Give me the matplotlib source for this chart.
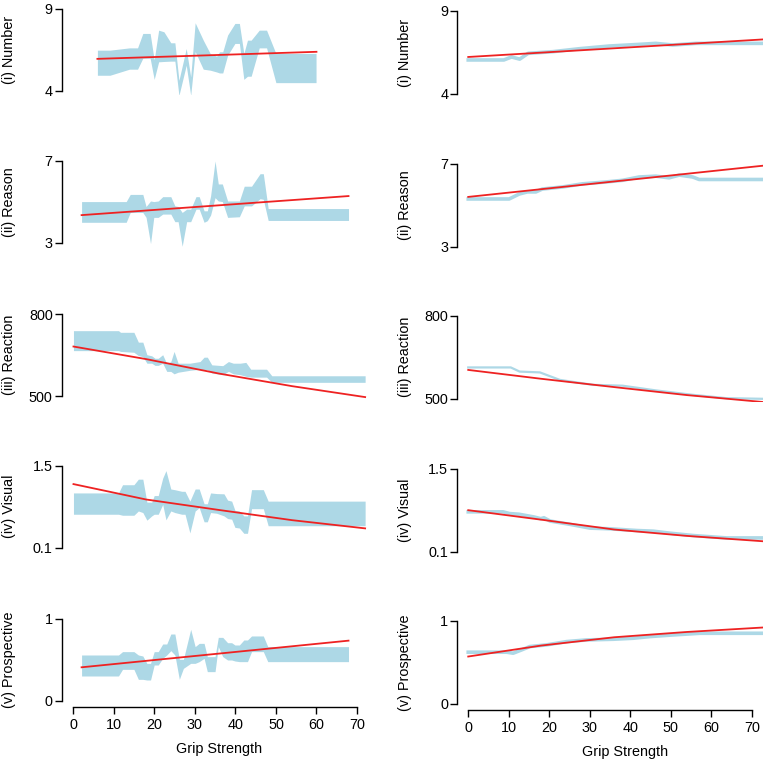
import matplotlib
matplotlib.use("Agg")
import matplotlib.pyplot as plt

plt.rcParams['font.family'] = ['Liberation Sans', 'DejaVu Sans']

BAND = '#ADD8E6'
RED = '#EE2222'

labels = ['(i) Number', '(ii) Reason', '(iii) Reaction', '(iv) Visual', '(v) Prospective']
y_ranges = [(4, 9), (3, 7), (500, 800), (0.1, 1.5), (0, 1)]
x_ticks = [0, 10, 20, 30, 40, 50, 60, 70]

# ---------------- Left column (bands) ----------------
num_x  = [6.0, 9.1, 13.9, 15.9, 17.2, 19.0, 20.0, 21.1, 22.4, 24.1, 25.1, 26.1, 27.9, 29.0, 30.1, 32.1, 33.8, 35.4, 36.1, 36.9, 38.1, 39.9, 41.0, 42.1, 43.0, 43.9, 45.9, 47.7, 50.0, 59.9]
num_hi = [6.49, 6.49, 6.63, 6.63, 7.51, 7.51, 5.9, 7.71, 7.61, 6.94, 6.94, 4.65, 6.59, 4.86, 8.16, 7.10, 6.29, 6.12, 6.39, 6.39, 7.41, 8.12, 8.12, 6.29, 7.10, 7.10, 7.71, 7.71, 6.29, 6.29]
num_lo = [4.96, 4.96, 5.33, 5.33, 6.0, 6.0, 4.71, 5.78, 5.80, 5.82, 5.82, 3.73, 5.57, 3.73, 6.4, 5.33, 5.27, 5.16, 5.10, 5.10, 6.18, 6.90, 6.90, 4.71, 4.90, 4.90, 6.63, 6.63, 4.51, 4.51]
num_fit_x = [6.0, 60.0]
num_fit_y = [5.96, 6.39]

rea_x  = [2.1, 13.1, 14.1, 17.2, 18.0, 19.1, 19.9, 21.0, 22.1, 24.1, 25.1, 25.9, 26.9, 28.0, 29.0, 30.3, 31.1, 32.3, 33.1, 33.9, 35.0, 35.8, 36.8, 38.1, 41.0, 42.2, 44.0, 46.1, 46.9, 48.1, 67.9]
rea_hi = [5.02, 5.02, 5.37, 5.37, 4.78, 5.05, 5.02, 5.05, 5.26, 5.26, 4.81, 4.78, 4.49, 4.65, 4.65, 5.26, 5.26, 4.57, 4.57, 5.29, 7.0, 5.88, 5.88, 5.05, 5.05, 5.77, 5.77, 6.38, 6.38, 4.68, 4.68]
rea_lo = [4.01, 4.01, 4.49, 4.49, 4.25, 2.97, 4.25, 4.25, 4.41, 4.41, 4.04, 4.04, 2.84, 4.04, 4.04, 4.65, 4.65, 4.01, 4.09, 4.36, 5.21, 5.05, 5.02, 4.25, 4.28, 4.81, 4.81, 5.16, 5.13, 4.10, 4.10]
rea_fit_x = [2.1, 67.9]
rea_fit_y = [4.36, 5.29]

rt_x  = [0.1, 11.2, 11.7, 15.0, 16.1, 17.2, 18.2, 19.4, 20.2, 21.0, 22.1, 23.1, 24.1, 24.9, 25.9, 28.8, 31.3, 32.3, 33.1, 34.2, 36.9, 38.3, 39.5, 41.2, 42.6, 43.8, 47.7, 49.0, 72.0]
rt_hi = [739, 739, 733, 733, 697, 697, 651, 647, 638, 638, 651, 618, 626, 663, 620, 620, 626, 642, 642, 614, 611, 626, 620, 620, 623, 598, 598, 574, 574]
rt_lo = [666, 666, 663, 660, 648, 644, 620, 620, 612, 612, 620, 590, 590, 581, 587, 594, 598, 596, 596, 584, 578, 590, 581, 578, 572, 569, 569, 550, 550]
rt_fit_x = [0.1, 18.0, 36.0, 54.0, 72.0]
rt_fit_y = [681, 635, 582, 536, 496]

vis_x  = [0.1, 11.2, 12.2, 15.0, 16.1, 17.2, 18.2, 19.4, 20.0, 21.0, 22.1, 22.9, 24.1, 25.1, 26.8, 27.6, 28.8, 30.1, 31.1, 32.3, 33.1, 33.9, 35.4, 37.2, 38.1, 39.1, 39.9, 41.0, 42.1, 43.0, 44.0, 46.9, 48.1, 72.0]
vis_hi = [1.035, 1.035, 1.175, 1.175, 1.27, 1.27, 0.878, 0.878, 0.99, 0.99, 1.287, 1.416, 1.102, 1.09, 1.063, 1.063, 0.895, 1.102, 1.102, 0.85, 0.85, 1.035, 1.024, 1.02, 0.912, 0.895, 0.738, 0.727, 0.643, 0.643, 1.091, 1.091, 0.895, 0.895]
vis_lo = [0.671, 0.671, 0.654, 0.654, 0.727, 0.70, 0.570, 0.643, 0.671, 0.671, 0.839, 0.576, 0.727, 0.70, 0.671, 0.671, 0.352, 0.727, 0.783, 0.542, 0.542, 0.70, 0.688, 0.643, 0.598, 0.587, 0.447, 0.436, 0.346, 0.346, 0.766, 0.766, 0.475, 0.475]
vis_fit_x = [0.1, 18.0, 36.0, 54.0, 72.0]
vis_fit_y = [1.186, 0.923, 0.744, 0.570, 0.43]

pro_x  = [2.1, 11.2, 12.2, 15.0, 16.1, 17.2, 18.2, 19.1, 20.0, 21.0, 22.1, 23.1, 24.1, 25.1, 26.2, 27.2, 29.0, 30.1, 31.1, 32.3, 33.1, 35.0, 35.8, 36.9, 38.1, 39.1, 39.9, 41.0, 42.1, 43.0, 44.0, 46.9, 48.0, 67.9]
pro_hi = [0.561, 0.561, 0.602, 0.602, 0.561, 0.549, 0.459, 0.459, 0.602, 0.602, 0.695, 0.695, 0.817, 0.817, 0.508, 0.508, 0.874, 0.663, 0.703, 0.703, 0.541, 0.541, 0.776, 0.776, 0.711, 0.711, 0.683, 0.683, 0.744, 0.744, 0.793, 0.793, 0.663, 0.663]
pro_lo = [0.305, 0.305, 0.386, 0.386, 0.264, 0.264, 0.256, 0.256, 0.439, 0.439, 0.520, 0.561, 0.614, 0.561, 0.264, 0.398, 0.459, 0.459, 0.480, 0.520, 0.358, 0.358, 0.663, 0.541, 0.50, 0.50, 0.488, 0.480, 0.480, 0.480, 0.602, 0.602, 0.480, 0.480]
pro_fit_x = [2.1, 67.9]
pro_fit_y = [0.411, 0.736]

left_bands = [(num_x, num_lo, num_hi), (rea_x, rea_lo, rea_hi), (rt_x, rt_lo, rt_hi),
              (vis_x, vis_lo, vis_hi), (pro_x, pro_lo, pro_hi)]
left_fits = [(num_fit_x, num_fit_y), (rea_fit_x, rea_fit_y), (rt_fit_x, rt_fit_y),
             (vis_fit_x, vis_fit_y), (pro_fit_x, pro_fit_y)]

# ---------------- Right column (thin ribbons) ----------------
rnum_x = [0, 8.8, 10.7, 12.7, 14.8, 20.9, 27.5, 34.8, 42.2, 46.3, 50.5, 56.2, 75]
rnum_y = [6.05, 6.05, 6.23, 6.10, 6.45, 6.55, 6.73, 6.89, 6.99, 7.05, 6.95, 7.05, 7.05]
rnum_fit_x = [0, 75]
rnum_fit_y = [6.23, 7.32]

rrea_x = [0, 10.1, 12.6, 14.6, 16.7, 18.3, 23.3, 28.2, 34.0, 38.1, 42.2, 46.3, 49.6, 52.1, 55.4, 57.0, 75]
rrea_y = [5.29, 5.29, 5.53, 5.63, 5.63, 5.77, 5.87, 6.02, 6.11, 6.19, 6.35, 6.39, 6.31, 6.44, 6.35, 6.23, 6.23]
rrea_fit_x = [0, 75]
rrea_fit_y = [5.39, 6.94]

rrt_x = [0, 10.5, 12.7, 17.7, 22.6, 30.8, 38.1, 46.3, 55.4, 63.6, 75]
rrt_y = [613, 613, 598, 595, 568, 550, 547, 530, 514, 502, 499]
rrt_fit_x = [0, 18, 36, 54, 75]
rrt_fit_y = [604, 572, 542, 513, 485]

rvis_x = [0, 8.6, 10.2, 12.5, 16.2, 17.9, 18.7, 20.2, 25.2, 30.1, 35.0, 41.6, 45.7, 49.8, 55.6, 63.8, 75]
rvis_y = [0.769, 0.769, 0.74, 0.729, 0.683, 0.654, 0.669, 0.614, 0.557, 0.494, 0.483, 0.454, 0.443, 0.409, 0.369, 0.329, 0.329]
rvis_fit_x = [0, 18, 36, 54, 75]
rvis_fit_y = [0.797, 0.637, 0.471, 0.363, 0.262]

rpro_x = [0, 9.5, 11.1, 13.2, 15.2, 19.3, 24.3, 29.2, 35.8, 40.7, 44.8, 50.6, 57.2, 75]
rpro_y = [0.624, 0.624, 0.612, 0.652, 0.692, 0.712, 0.752, 0.772, 0.78, 0.792, 0.812, 0.832, 0.852, 0.852]
rpro_fit_x = [0, 18, 36, 54, 75]
rpro_fit_y = [0.572, 0.704, 0.804, 0.868, 0.928]

right_lines = [(rnum_x, rnum_y), (rrea_x, rrea_y), (rrt_x, rrt_y), (rvis_x, rvis_y), (rpro_x, rpro_y)]
right_fits = [(rnum_fit_x, rnum_fit_y), (rrea_fit_x, rrea_fit_y), (rrt_fit_x, rrt_fit_y),
              (rvis_fit_x, rvis_fit_y), (rpro_fit_x, rpro_fit_y)]

# ---------------- Layout ----------------
W, H = 763, 759
fig = plt.figure(figsize=(W / 100, H / 100), dpi=100)

FS = 10.4

def make_axes(x_left_px, width_px, y_hi_px, span_px, xlim):
    top = y_hi_px - 0.04 * span_px
    height = 1.08 * span_px
    bottom = H - (top + height)
    ax = fig.add_axes([x_left_px / W, bottom / H, width_px / W, height / H])
    ax.set_xlim(*xlim)
    return ax

left_yhi = [9, 161, 314, 465.7, 619]
right_yhi = [11, 163.5, 315.7, 468.5, 621]

def style(ax, yr, label, bottom_row, label_x):
    lo, hi = yr
    pad = 0.04 * (hi - lo)
    ax.set_ylim(lo - pad, hi + pad)
    for s in ['top', 'right']:
        ax.spines[s].set_visible(False)
    ax.spines['left'].set_bounds(lo, hi)
    ax.spines['left'].set_linewidth(1.0)
    ax.set_yticks([lo, hi])
    ax.set_yticklabels([f'{v:g}' for v in (lo, hi)])
    ax.tick_params(axis='y', length=5, width=1.0, pad=1.5, labelsize=FS)
    ax.set_ylabel(label, fontsize=FS, va='center')
    ax.yaxis.set_label_coords(label_x, 0.5)
    if bottom_row:
        ax.spines['bottom'].set_bounds(0, 70)
        ax.spines['bottom'].set_position(('outward', 2))
        ax.spines['bottom'].set_linewidth(1.0)
        ax.set_xticks(x_ticks)
        ax.tick_params(axis='x', length=5, width=1.0, pad=3, labelsize=FS)
        ax.set_xlabel('Grip Strength', fontsize=FS, labelpad=7)
    else:
        ax.spines['bottom'].set_visible(False)
        ax.set_xticks([])

for i in range(5):
    # left
    ax = make_axes(61.7, 315, left_yhi[i], 82, (-2.8, 74.85))
    bx, blo, bhi = left_bands[i]
    ax.fill_between(bx, blo, bhi, color=BAND, linewidth=0)
    fx, fy = left_fits[i]
    ax.plot(fx, fy, color=RED, lw=1.3)
    style(ax, y_ranges[i], labels[i], i == 4, -0.167)

    # right
    ax2 = make_axes(457.3, 335, right_yhi[i], 83, (-2.7, 80))
    rx, ry = right_lines[i]
    ax2.plot(rx, ry, color=BAND, lw=2.6 if i != 2 else 1.6, solid_joinstyle='round')
    fx, fy = right_fits[i]
    ax2.plot(fx, fy, color=RED, lw=1.3)
    style(ax2, y_ranges[i], labels[i], i == 4, -0.156)

fig.savefig('out.png', dpi=100)
